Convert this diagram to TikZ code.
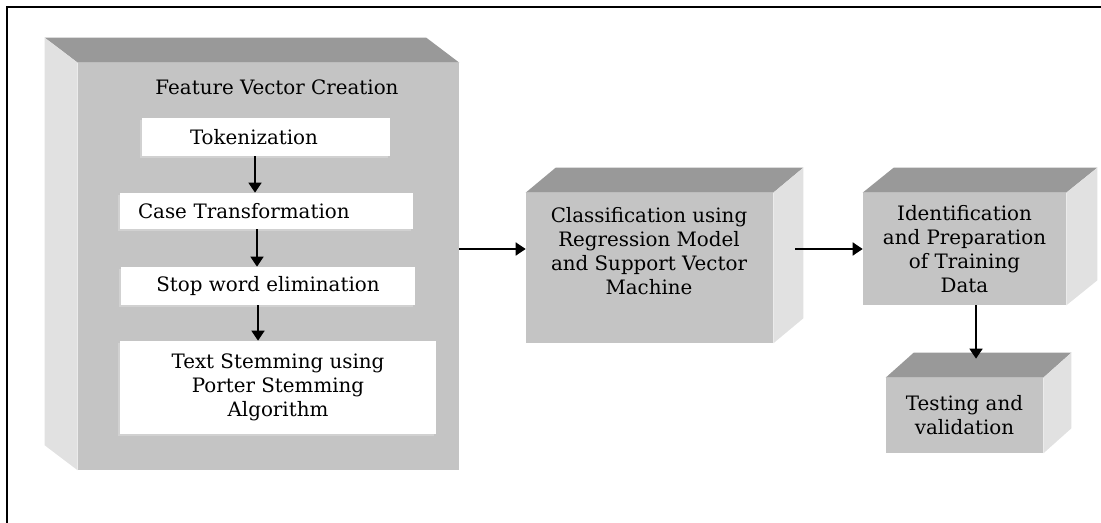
\documentclass[tikz,border=0pt]{standalone}
\usepackage{fontspec}
\setmainfont{DejaVu Serif}
\usetikzlibrary{arrows.meta, shadows}

\definecolor{frontgray}{HTML}{C4C4C4}
\definecolor{topgray}{HTML}{999999}
\definecolor{sidegray}{HTML}{E1E1E1}

\begin{document}
\begin{tikzpicture}[x=0.02cm, y=-0.02cm,
    block/.style={fill=frontgray, inner sep=0pt, align=center},
    stepbox/.style={fill=white, inner sep=0pt, align=center,
        drop shadow={shadow xshift=-0.04cm, shadow yshift=-0.04cm, fill=black!18, opacity=1}},
    txt/.style={align=center},
    arr/.style={-{Triangle[length=0.2cm, width=0.26cm]}, line width=1pt}]
    \useasboundingbox (0,0) rectangle (1101,523);
    \tikzset{every node/.append style={font=\fontsize{11.3}{13.6}\selectfont}}

    % Frame on the top and left edge
    \draw[line width=1.2pt] (7,523) -- (7,7) -- (1101,7);

    % Feature vector creation: big block, depth to the upper left
    \node[block, minimum width=7.62cm, minimum height=8.14cm] (feat) at (268.5,266.5) {};
    \fill[topgray] (feat.north west) -- ++(-33,-25) -- ([shift={(-33,-25)}]feat.north east) -- (feat.north east) -- cycle;
    \fill[sidegray] (feat.north west) -- ++(-33,-25) -- ([shift={(-33,-25)}]feat.south west) -- (feat.south west) -- cycle;
    \node[txt] (feattitle) at (277,87) {Feature Vector Creation};

    % Steps inside the block
    \node[stepbox, text width=3.04cm, inner xsep=0.96cm, align=left, minimum height=0.76cm] (tok) at (266,137) {Tokenization};
    \node[stepbox, text width=5.14cm, inner xsep=0.36cm, align=left, minimum height=0.72cm] (case) at (266.5,211) {Case Transformation};
    \node[stepbox, minimum width=5.88cm, minimum height=0.76cm] (stop) at (268,286) {Stop word elimination};
    \node[stepbox, minimum width=6.32cm, minimum height=1.86cm] (stem) at (278,387.5) {Text Stemming using\\Porter Stemming\\Algorithm};

    \draw[arr] ([xshift=-0.22cm]tok.south) -- ([xshift=-0.22cm]tok.south |- case.north);
    \draw[arr] ([xshift=-0.19cm]case.south) -- ([xshift=-0.19cm]case.south |- stop.north);
    \draw[arr] ([xshift=-0.2cm]stop.south) -- ([xshift=-0.2cm]stop.south |- stem.north);

    % Classification block
    \node[block, minimum width=4.94cm, minimum height=3cm] (class) at (649.5,268) {};
    \fill[topgray] (class.north west) -- ++(30,-25) -- ([shift={(30,-25)}]class.north east) -- (class.north east) -- cycle;
    \fill[sidegray] (class.north east) -- ++(30,-25) -- ([shift={(30,-25)}]class.south east) -- (class.south east) -- cycle;
    \node[txt] (classtext) at (649,251) {Classification using\\Regression Model\\and Support Vector\\Machine};

    % Training data block
    \node[block, minimum width=4.06cm, minimum height=2.24cm] (ident) at (964.5,249) {Identification\\and Preparation\\of Training\\Data};
    \fill[topgray] (ident.north west) -- ++(31,-25) -- ([shift={(31,-25)}]ident.north east) -- (ident.north east) -- cycle;
    \fill[sidegray] (ident.north east) -- ++(31,-25) -- ([shift={(31,-25)}]ident.south east) -- (ident.south east) -- cycle;

    % Testing block
    \node[block, minimum width=3.14cm, minimum height=1.5cm] (test) at (964.5,415.5) {Testing and\\validation};
    \fill[topgray] (test.north west) -- ++(28,-25) -- ([shift={(28,-25)}]test.north east) -- (test.north east) -- cycle;
    \fill[sidegray] (test.north east) -- ++(28,-25) -- ([shift={(28,-25)}]test.south east) -- (test.south east) -- cycle;

    % Flow between the blocks
    \draw[arr] ([yshift=0.38cm]class.west -| feat.east) -- ([yshift=0.38cm]class.west);
    \draw[arr] ([xshift=0.44cm]class.east |- ident.west) -- (ident.west);
    \draw[arr] ([xshift=0.23cm]ident.south) -- ([xshift=0.23cm, yshift=0.38cm]ident.south |- test.north);
\end{tikzpicture}
\end{document}
